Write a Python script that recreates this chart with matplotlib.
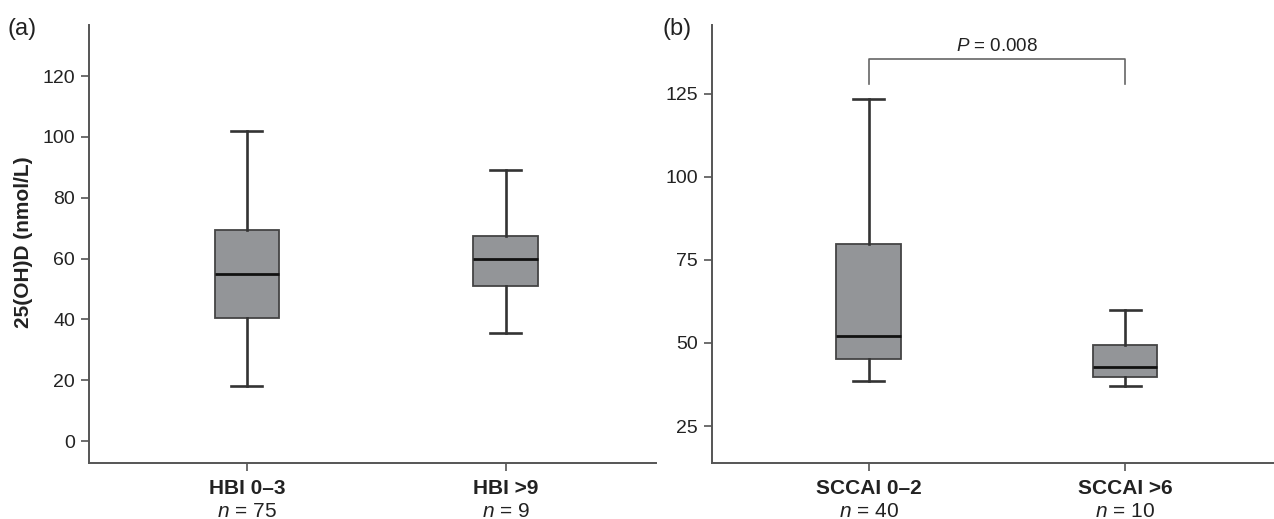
import matplotlib
matplotlib.use("Agg")
import matplotlib.pyplot as plt
import matplotlib.transforms as mtransforms

plt.rcParams["font.family"] = ["Liberation Sans", "DejaVu Sans"]
plt.rcParams["mathtext.fontset"] = "custom"
plt.rcParams["mathtext.rm"] = "Liberation Sans"
plt.rcParams["mathtext.it"] = "Liberation Sans:italic"

# Panel (a): Crohn's disease, HBI groups
hbi_groups = ["HBI 0\u20133", "HBI >9"]
hbi_n = [75, 9]
hbi_whislo = [18, 35.5]
hbi_q1 = [40.4, 51]
hbi_med = [55, 60]
hbi_q3 = [69.5, 67.5]
hbi_whishi = [102, 89]
hbi_ticks = [0, 20, 40, 60, 80, 100, 120]

# Panel (b): ulcerative colitis, SCCAI groups
sccai_groups = ["SCCAI 0\u20132", "SCCAI >6"]
sccai_n = [40, 10]
sccai_whislo = [38.7, 37]
sccai_q1 = [45.3, 39.7]
sccai_med = [52.2, 42.8]
sccai_q3 = [79.8, 49.3]
sccai_whishi = [123.3, 60]
sccai_ticks = [25, 50, 75, 100, 125]
p_label = "$P$ = 0.008"

TEXT = "#222222"
AXIS = "#555555"


def make_stats(lo, q1, med, q3, hi):
    return [dict(whislo=a, q1=b, med=c, q3=d, whishi=e, fliers=[])
            for a, b, c, d, e in zip(lo, q1, med, q3, hi)]


def draw_panel(ax, stats, groups, counts, ticks, ylim, tag, tag_x):
    ax.bxp(stats, positions=range(len(stats)), widths=0.25, patch_artist=True,
           showfliers=False, capwidths=0.12,
           boxprops=dict(facecolor="#939598", edgecolor="#444444", linewidth=1.3),
           medianprops=dict(color="#111111", linewidth=2.0),
           whiskerprops=dict(color="#333333", linewidth=1.9),
           capprops=dict(color="#333333", linewidth=1.9))
    ax.set_xlim(-0.61, 1.58)
    ax.set_ylim(*ylim)
    ax.set_yticks(ticks)
    ax.set_yticklabels([str(t) for t in ticks])
    ax.set_xticks(range(len(groups)))
    ax.set_xticklabels([""] * len(groups))
    for side in ("top", "right"):
        ax.spines[side].set_visible(False)
    for side in ("left", "bottom"):
        ax.spines[side].set_color(AXIS)
        ax.spines[side].set_linewidth(1.4)
    ax.tick_params(axis="both", colors=AXIS, width=1.2, length=6,
                   labelsize=14, labelcolor=TEXT)
    ax.tick_params(axis="y", pad=4)
    trans = mtransforms.blended_transform_factory(ax.transData, ax.transAxes)
    for i, (g, n) in enumerate(zip(groups, counts)):
        ax.text(i, -0.058, g, transform=trans, ha="center", va="center",
                fontsize=15, fontweight="bold", color=TEXT)
        ax.text(i, -0.11, f"$n$ = {n}", transform=trans, ha="center",
                va="center", fontsize=15, color=TEXT)
    ax.text(tag_x, 0.992, tag, transform=ax.transAxes,
            fontsize=17, color=TEXT, ha="center", va="center")


fig = plt.figure(figsize=(12.74, 5.19), dpi=100)
ax_a = fig.add_axes([89 / 1274, 56 / 519, 567 / 1274, 438 / 519])
ax_b = fig.add_axes([712 / 1274, 56 / 519, 562 / 1274, 438 / 519])

draw_panel(ax_a, make_stats(hbi_whislo, hbi_q1, hbi_med, hbi_q3, hbi_whishi),
           hbi_groups, hbi_n, hbi_ticks, (-7.2, 136.8), "(a)", -0.118)
ax_a.set_ylabel("25(OH)D (nmol/L)", fontsize=15, fontweight="bold", color=TEXT)
ax_a.yaxis.set_label_coords(-0.098, 0.503)

draw_panel(ax_b, make_stats(sccai_whislo, sccai_q1, sccai_med, sccai_q3, sccai_whishi),
           sccai_groups, sccai_n, sccai_ticks, (13.9, 145.6), "(b)", -0.062)

# significance bracket between the SCCAI groups
ax_b.plot([0, 0, 1, 1], [128, 135.3, 135.3, 128], color="#666666", linewidth=1.2)
ax_b.text(0.5, 139.2, p_label, ha="center", va="center", fontsize=13.5, color=TEXT)

fig.savefig("out.png", dpi=100)
